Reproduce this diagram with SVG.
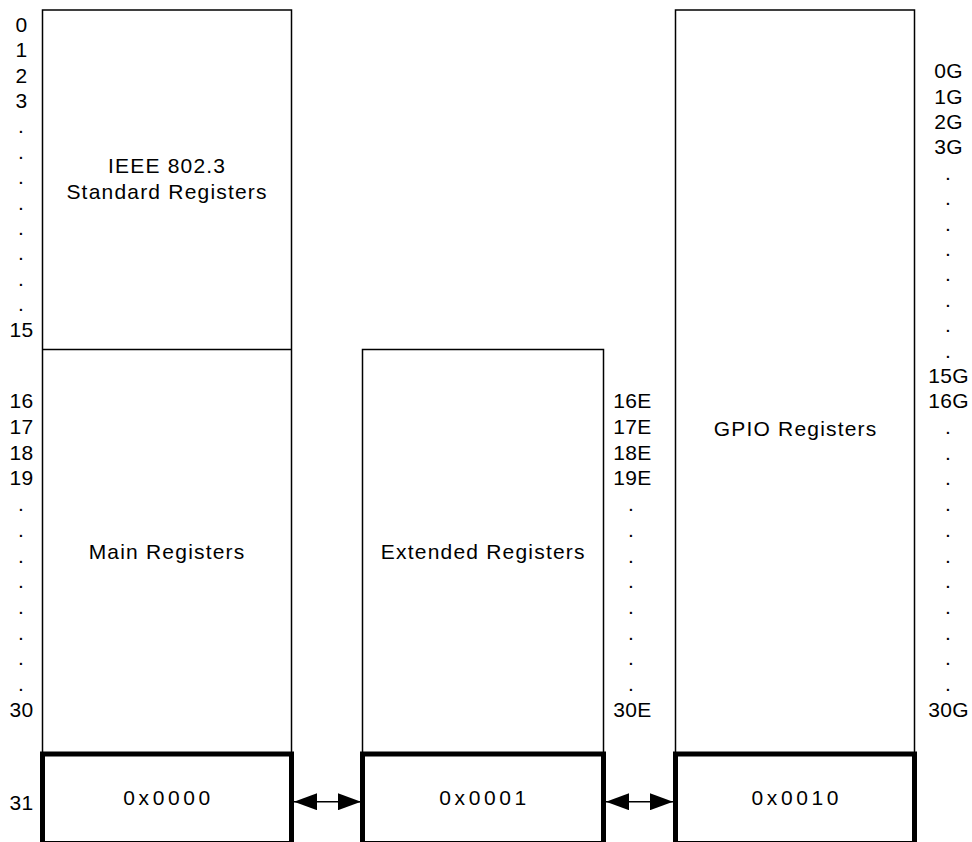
<svg xmlns="http://www.w3.org/2000/svg" width="972" height="842" viewBox="0 0 972 842">
<style>
text{font-family:"Liberation Sans",Arial,sans-serif;font-size:21px;fill:#000;text-anchor:middle}
.lbl{letter-spacing:0.3px}
.ttl{letter-spacing:1.2px}
.hex{letter-spacing:3.6px}
.box{fill:#fff;stroke:#000;stroke-width:1.5}
.bold{fill:#fff;stroke:#000;stroke-width:5}
.conn{stroke:#000;stroke-width:1.5;fill:none}
</style>
<defs>
<marker id="ah" markerUnits="userSpaceOnUse" markerWidth="23" markerHeight="17" refX="23" refY="8.5" orient="auto-start-reverse">
<path d="M0,0 L23,8.5 L0,17 Z" fill="#000"/>
</marker>
</defs>
<rect width="972" height="842" fill="#fff"/>

<g id="main-block">
<rect class="box" x="42.5" y="10" width="249" height="744"/>
<line x1="42.5" y1="349.5" x2="291.5" y2="349.5" stroke="#000" stroke-width="1.5"/>
<text class="ttl" x="167.1" y="173.3">IEEE 802.3</text>
<text class="ttl" x="167.1" y="199.3">Standard Registers</text>
<text class="ttl" x="167.1" y="559">Main Registers</text>
</g>
<g id="main-page">
<rect class="bold" x="42.5" y="754" width="249" height="89.5"/>
<text class="hex" x="168.5" y="805">0x0000</text>
</g>

<g id="ext-block">
<rect class="box" x="362.5" y="349.5" width="241" height="404.5"/>
<text class="ttl" x="483.3" y="559">Extended Registers</text>
</g>
<g id="ext-page">
<rect class="bold" x="362.5" y="754" width="241" height="89.5"/>
<text class="hex" x="484.5" y="805">0x0001</text>
</g>

<g id="gpio-block">
<rect class="box" x="675.5" y="10" width="239" height="744"/>
<text class="ttl" x="795.6" y="436">GPIO Registers</text>
</g>
<g id="gpio-page">
<rect class="bold" x="675.5" y="754" width="239" height="89.5"/>
<text class="hex" x="796.8" y="805">0x0010</text>
</g>

<g id="left-labels" class="lbl">
<text x="21.5" y="31.7">0</text>
<text x="21.5" y="57.1">1</text>
<text x="21.5" y="82.5">2</text>
<text x="21.5" y="107.9">3</text>
<text x="21" y="133.3">.</text>
<text x="21" y="158.7">.</text>
<text x="21" y="184.1">.</text>
<text x="21" y="209.5">.</text>
<text x="21" y="234.9">.</text>
<text x="21" y="260.3">.</text>
<text x="21" y="285.7">.</text>
<text x="21" y="311.1">.</text>
<text x="21.5" y="336.5">15</text>
<text x="21.5" y="408.3">16</text>
<text x="21.5" y="434">17</text>
<text x="21.5" y="459.7">18</text>
<text x="21.5" y="485.4">19</text>
<text x="21" y="511.1">.</text>
<text x="21" y="536.8">.</text>
<text x="21" y="562.5">.</text>
<text x="21" y="588.2">.</text>
<text x="21" y="613.9">.</text>
<text x="21" y="639.6">.</text>
<text x="21" y="665.3">.</text>
<text x="21" y="691">.</text>
<text x="21.5" y="716.7">30</text>
<text x="21.5" y="810">31</text>
</g>

<g id="ext-labels" class="lbl">
<text x="632.5" y="408.3">16E</text>
<text x="632.5" y="434">17E</text>
<text x="632.5" y="459.7">18E</text>
<text x="632.5" y="485.4">19E</text>
<text x="631" y="511.1">.</text>
<text x="631" y="536.8">.</text>
<text x="631" y="562.5">.</text>
<text x="631" y="588.2">.</text>
<text x="631" y="613.9">.</text>
<text x="631" y="639.6">.</text>
<text x="631" y="665.3">.</text>
<text x="631" y="691">.</text>
<text x="632.5" y="716.7">30E</text>
</g>

<g id="gpio-labels" class="lbl">
<text x="948.5" y="78.1">0G</text>
<text x="948.5" y="103.5">1G</text>
<text x="948.5" y="128.9">2G</text>
<text x="948.5" y="154.3">3G</text>
<text x="948" y="179.7">.</text>
<text x="948" y="205.1">.</text>
<text x="948" y="230.5">.</text>
<text x="948" y="255.9">.</text>
<text x="948" y="281.3">.</text>
<text x="948" y="306.7">.</text>
<text x="948" y="332.1">.</text>
<text x="948" y="357.5">.</text>
<text x="948.5" y="382.9">15G</text>
<text x="948.5" y="408.3">16G</text>
<text x="948" y="434">.</text>
<text x="948" y="459.7">.</text>
<text x="948" y="485.4">.</text>
<text x="948" y="511.1">.</text>
<text x="948" y="536.8">.</text>
<text x="948" y="562.5">.</text>
<text x="948" y="588.2">.</text>
<text x="948" y="613.9">.</text>
<text x="948" y="639.6">.</text>
<text x="948" y="665.3">.</text>
<text x="948" y="691">.</text>
<text x="948.5" y="716.7">30G</text>
</g>

<g id="connectors">
<line class="conn" x1="294" y1="801.7" x2="361" y2="801.7" marker-start="url(#ah)" marker-end="url(#ah)"/>
<line class="conn" x1="606" y1="801.7" x2="673" y2="801.7" marker-start="url(#ah)" marker-end="url(#ah)"/>
</g>
</svg>
